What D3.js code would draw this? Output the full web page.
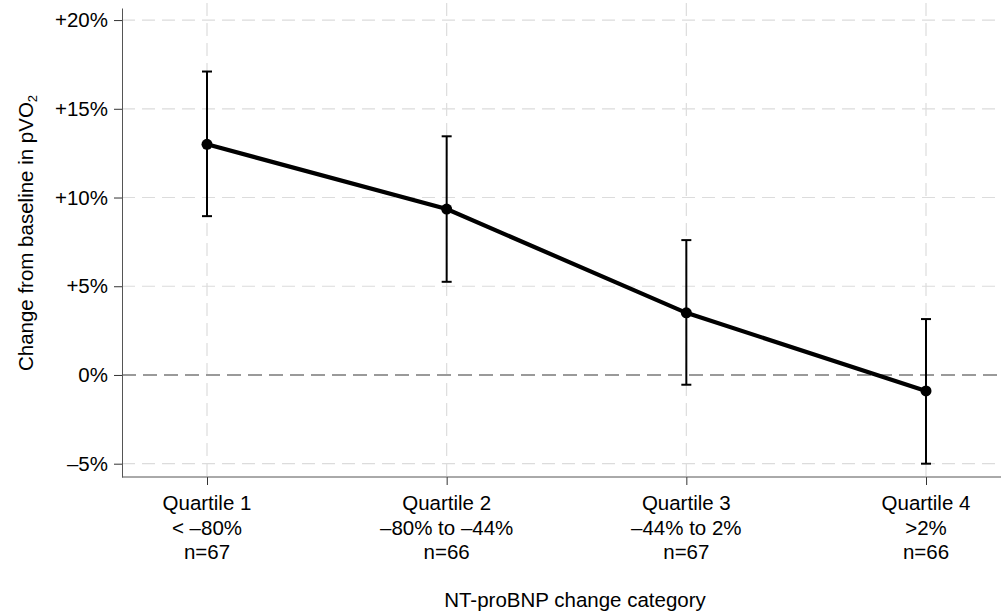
<!DOCTYPE html>
<html>
<head>
<meta charset="utf-8">
<script src="https://cdn.jsdelivr.net/npm/d3@7"></script>
<style>
  html, body { margin: 0; padding: 0; background: #fff; }
  svg { display: block; font-family: "Liberation Sans", Arial, sans-serif; }
</style>
</head>
<body>
<svg id="chart" width="1001" height="613"></svg>
<script>
// ---- data ----
const categories = ["Quartile 1", "Quartile 2", "Quartile 3", "Quartile 4"];
const rangeLabels = ["< \u201380%", "\u201380% to \u201344%", "\u201344% to 2%", ">2%"];
const nLabels = ["n=67", "n=66", "n=67", "n=66"];
const estimates = [13.0, 9.35, 3.5, -0.9];
const ciLower = [8.95, 5.25, -0.55, -5.0];
const ciUpper = [17.1, 13.45, 7.6, 3.15];
const yTicks = [-5, 0, 5, 10, 15, 20];
const yTickLabels = ["\u20135%", "0%", "+5%", "+10%", "+15%", "+20%"];

// ---- layout ----
const svg = d3.select("#chart");
const plotLeft = 122, plotRight = 1001, plotTop = 8, plotBottom = 477;
const fs = 20.5;

const x = d3.scalePoint().domain(categories).range([207, 926]);
const y = d3.scaleLinear().domain([-5.75, 20.68]).range([plotBottom, plotTop]);

// grid
const grid = svg.append("g");
grid.selectAll("line.h").data(yTicks.filter(d => d !== 0)).join("line")
  .attr("class", "h")
  .attr("x1", plotLeft).attr("x2", plotRight)
  .attr("y1", d => y(d)).attr("y2", d => y(d))
  .attr("stroke", "#dcdcdc").attr("stroke-width", 1.2)
  .attr("stroke-dasharray", "13,7");
grid.selectAll("line.v").data(categories).join("line")
  .attr("class", "v")
  .attr("x1", d => x(d)).attr("x2", d => x(d))
  .attr("y1", 3).attr("y2", plotBottom)
  .attr("stroke", "#dcdcdc").attr("stroke-width", 1.2)
  .attr("stroke-dasharray", "13,7");
// zero reference line
svg.append("line")
  .attr("x1", plotLeft).attr("x2", plotRight)
  .attr("y1", y(0)).attr("y2", y(0))
  .attr("stroke", "#9a9a9a").attr("stroke-width", 2)
  .attr("stroke-dasharray", "14,7");

// y axis
const yAxis = d3.axisLeft(y).tickValues(yTicks)
  .tickFormat((d, i) => yTickLabels[i]).tickSize(8).tickPadding(6).tickSizeOuter(0);
const gy = svg.append("g").attr("transform", `translate(${plotLeft},0)`).call(yAxis);
gy.select(".domain").attr("stroke", "#555");
gy.selectAll(".tick line").attr("stroke", "#333");
gy.selectAll(".tick text").attr("font-size", fs).attr("fill", "#000")
  .attr("font-family", "Liberation Sans, Arial, sans-serif");

// x axis
const xAxis = d3.axisBottom(x).tickSize(8).tickFormat(() => "").tickSizeOuter(0);
const gx = svg.append("g").attr("transform", `translate(0,${plotBottom})`).call(xAxis);
gx.select(".domain").remove();
gx.selectAll(".tick line").attr("stroke", "#333");
svg.append("line").attr("x1", plotLeft).attr("x2", plotRight)
  .attr("y1", plotBottom).attr("y2", plotBottom).attr("stroke", "#555").attr("stroke-width", 1);

const xl = svg.append("g");
categories.forEach((c, i) => {
  const t = xl.append("text").attr("x", x(c)).attr("text-anchor", "middle")
    .attr("font-size", fs).attr("fill", "#000");
  t.append("tspan").attr("x", x(c)).attr("y", 510).text(c);
  t.append("tspan").attr("x", x(c)).attr("y", 535).text(rangeLabels[i]);
  t.append("tspan").attr("x", x(c)).attr("y", 559).text(nLabels[i]);
});

// axis titles
svg.append("text").attr("x", 575).attr("y", 607).attr("text-anchor", "middle")
  .attr("font-size", fs).attr("fill", "#000").text("NT-proBNP change category");
const yt = svg.append("text").attr("transform", "translate(33,233) rotate(-90)")
  .attr("text-anchor", "middle").attr("font-size", fs).attr("fill", "#000");
yt.append("tspan").text("Change from baseline in pVO");
yt.append("tspan").attr("font-size", 13).attr("dy", 4).text("2");

// error bars
const eb = svg.append("g").attr("stroke", "#000").attr("stroke-width", 2);
categories.forEach((c, i) => {
  eb.append("line").attr("x1", x(c)).attr("x2", x(c)).attr("y1", y(ciLower[i])).attr("y2", y(ciUpper[i]));
  eb.append("line").attr("x1", x(c) - 5).attr("x2", x(c) + 5).attr("y1", y(ciLower[i])).attr("y2", y(ciLower[i]));
  eb.append("line").attr("x1", x(c) - 5).attr("x2", x(c) + 5).attr("y1", y(ciUpper[i])).attr("y2", y(ciUpper[i]));
});

// line
const line = d3.line().x((d, i) => x(categories[i])).y(d => y(d));
svg.append("path").datum(estimates).attr("d", line)
  .attr("fill", "none").attr("stroke", "#000").attr("stroke-width", 4.2);
svg.selectAll("circle.pt").data(estimates).join("circle")
  .attr("class", "pt")
  .attr("cx", (d, i) => x(categories[i])).attr("cy", d => y(d)).attr("r", 5.5).attr("fill", "#000");
</script>
</body>
</html>
